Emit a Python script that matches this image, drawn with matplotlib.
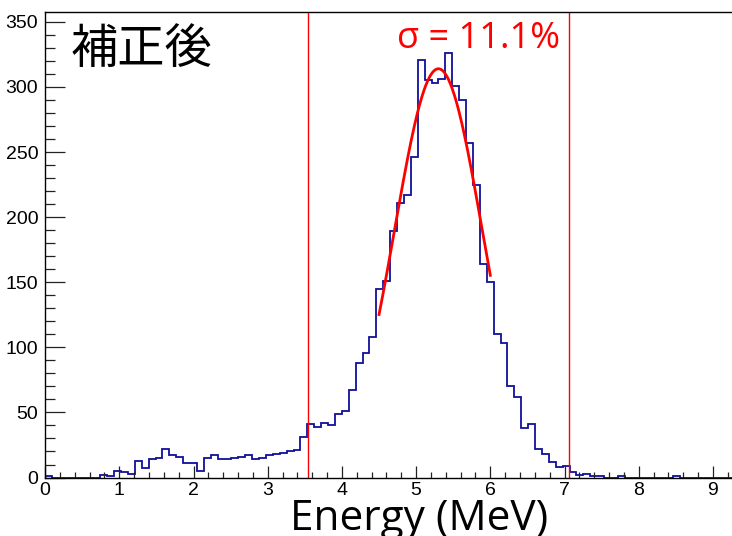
import numpy as np
import matplotlib
matplotlib.use("Agg")
import matplotlib.pyplot as plt
from matplotlib.ticker import MultipleLocator

# histogram: 100 bins over 0 - 9.3 MeV
x_min, x_max, n_bins = 0.0, 9.3, 100
counts = [
    1, 0, 0, 0, 0, 0, 0, 0, 2, 1,
    5, 4, 3, 13, 7, 14, 15, 22, 17, 16,
    11, 11, 5, 15, 17, 14, 14, 15, 16, 17,
    14, 15, 17, 18, 19, 20, 21, 31, 41, 39,
    42, 40, 49, 51, 67, 88, 96, 108, 145, 151,
    189, 211, 217, 246, 321, 305, 303, 306, 326, 301,
    290, 257, 225, 164, 150, 110, 103, 70, 62, 38,
    41, 22, 18, 12, 8, 9, 4, 2, 3, 1,
    1, 0, 0, 1, 0, 0, 0, 0, 0, 0,
    0, 1, 0, 0, 0, 0, 0, 0, 0, 0,
]

# gaussian fit (amplitude, mean, sigma) and fit range
fit_amp, fit_mean, fit_sigma = 314.0, 5.30, 0.59
fit_range = (4.5, 6.0)

# window cut lines
cut_lines = [3.54, 7.065]

label_sigma = "σ = 11.1%"
label_corr = "補正後"
x_label = "Energy (MeV)"


def main():
    plt.rcParams["font.family"] = ["Liberation Sans", "DejaVu Sans"]
    fig = plt.figure(figsize=(7.32, 5.36), dpi=100)
    ax = fig.add_axes([0.0616, 0.1091, 0.9428, 0.869])

    edges = np.linspace(x_min, x_max, n_bins + 1)
    ax.stairs(counts, edges, color="#10109a", lw=1.3)

    xf = np.linspace(fit_range[0], fit_range[1], 200)
    yf = fit_amp * np.exp(-0.5 * ((xf - fit_mean) / fit_sigma) ** 2)
    ax.plot(xf, yf, color="#ff0000", lw=2.0)

    for c in cut_lines:
        ax.axvline(c, color="#ff0000", lw=1.0)

    ax.set_xlim(x_min, x_max)
    ax.set_ylim(0, 357.8)

    ax.xaxis.set_major_locator(MultipleLocator(1))
    ax.xaxis.set_minor_locator(MultipleLocator(0.2))
    ax.yaxis.set_major_locator(MultipleLocator(50))
    ax.yaxis.set_minor_locator(MultipleLocator(10))

    ax.tick_params(axis="both", which="both", direction="in",
                   top=False, right=False, width=0.9, color="#222222",
                   labelsize=14)
    ax.tick_params(axis="y", which="major", length=14.5, pad=5)
    ax.tick_params(axis="y", which="minor", length=7)
    ax.tick_params(axis="x", which="major", length=9, pad=3)
    ax.tick_params(axis="x", which="minor", length=4.5)
    for s in ax.spines.values():
        s.set_linewidth(1.0)

    fig.text(0.193, 0.907, label_corr, fontsize=34,
             family=["Noto Sans CJK JP"], va="center", ha="center",
             color="black")
    fig.text(0.654, 0.928, label_sigma, fontsize=26,
             family=["Open Sans", "DejaVu Sans"], va="center",
             ha="center", color="#ff0000")
    fig.text(0.572, 0.031, x_label, fontsize=30.5,
             family=["Open Sans", "DejaVu Sans"], va="center", ha="center")

    fig.savefig("out.png", dpi=100)


if __name__ == "__main__":
    main()
